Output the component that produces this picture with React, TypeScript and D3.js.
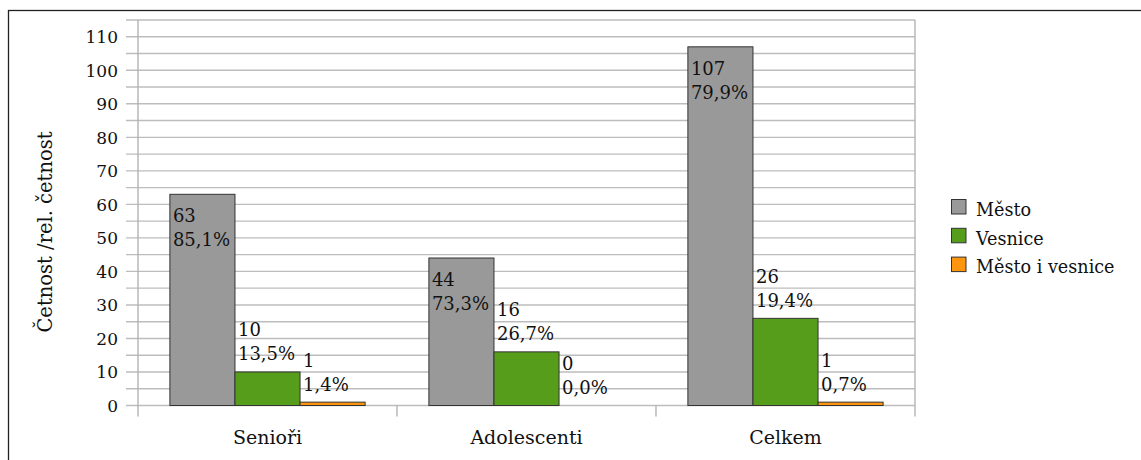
import React from "react";
import * as d3 from "d3";

const categories = ["Senioři", "Adolescenti", "Celkem"];
const seriesNames = ["Město", "Vesnice", "Město i vesnice"];
const seriesColors = ["#999999", "#579d1c", "#ff950e"];
const mestoCounts = [63, 44, 107];
const vesniceCounts = [10, 16, 26];
const obojiCounts = [1, 0, 1];
const mestoPct = [85.1, 73.3, 79.9];
const vesnicePct = [13.5, 26.7, 19.4];
const obojiPct = [1.4, 0.0, 0.7];
const yTicks = [0, 10, 20, 30, 40, 50, 60, 70, 80, 90, 100, 110];
const yTitle = "Četnost /rel. četnost";

const counts = [mestoCounts, vesniceCounts, obojiCounts];
const pcts = [mestoPct, vesnicePct, obojiPct];

const FONT = "'DejaVu Serif', serif";

export default function App() {
  const W = 1141;
  const H = 460;
  const left = 138;
  const right = 915;
  const top = 20;
  const bottom = 405.5;

  const x = d3.scaleBand<string>().domain(categories).range([left, right]).padding(0);
  const xs = d3
    .scaleBand<string>()
    .domain(seriesNames)
    .range([0, x.bandwidth()])
    .paddingInner(0)
    .paddingOuter(0.49);
  const y = d3.scaleLinear().domain([0, 115]).range([bottom, top]);
  const gridVals = d3.range(0, 116, 5);

  const fmt = (v: number) => v.toFixed(1).replace(".", ",") + "%";

  return (
    <svg
      width={W}
      height={H}
      style={{ position: "absolute", left: 0, top: 0, background: "#fff" }}
      fontFamily={FONT}
    >
      <rect x={8.5} y={10.5} width={1200} height={600} fill="#fff" stroke="#222" strokeWidth={1.3} />
      {gridVals.map((v) => (
        <line
          key={"g" + v}
          x1={left - 12}
          x2={right}
          y1={y(v)}
          y2={y(v)}
          stroke="#bdbdbd"
          strokeWidth={1.4}
        />
      ))}
      <line x1={left} x2={left} y1={top} y2={bottom + 11} stroke="#b3b3b3" strokeWidth={1.4} />
      <line x1={right} x2={right} y1={top} y2={bottom + 11} stroke="#b3b3b3" strokeWidth={1.4} />
      {categories.slice(1).map((c) => (
        <line
          key={"t" + c}
          x1={x(c)!}
          x2={x(c)!}
          y1={bottom}
          y2={bottom + 11}
          stroke="#b3b3b3"
          strokeWidth={1.4}
        />
      ))}
      {yTicks.map((v) => (
        <text key={"yl" + v} x={118} y={y(v) + 6.5} textAnchor="end" fontSize={17} fill="#111">
          {v}
        </text>
      ))}
      <text
        transform={`translate(52, ${232}) rotate(-90)`}
        textAnchor="middle"
        fontSize={19.5}
        fill="#111"
      >
        {yTitle}
      </text>
      {seriesNames.map((s, si) =>
        categories.map((c, ci) => {
          const v = counts[si][ci];
          const bx = x(c)! + xs(s)!;
          const by = y(v);
          const bh = bottom - by;
          return (
            <rect
              key={s + c}
              x={bx}
              y={by}
              width={xs.bandwidth()}
              height={bh}
              fill={seriesColors[si]}
              stroke="#333"
              strokeWidth={1}
            />
          );
        })
      )}
      {seriesNames.map((s, si) =>
        categories.map((c, ci) => {
          const v = counts[si][ci];
          const bx = x(c)! + xs(s)!;
          const by = y(v);
          const bh = bottom - by;
          const inside = bh > 100;
          const l1 = inside ? by + 27.7 : by - 35.5;
          const l2 = l1 + 24;
          return (
            <g key={"l" + s + c} fontSize={18} fill="#111">
              <text x={bx + 3} y={l1}>
                {v}
              </text>
              <text x={bx + 3} y={l2}>
                {fmt(pcts[si][ci])}
              </text>
            </g>
          );
        })
      )}
      {categories.map((c) => (
        <text
          key={"c" + c}
          x={x(c)! + x.bandwidth() / 2}
          y={444.3}
          textAnchor="middle"
          fontSize={19}
          fill="#111"
        >
          {c}
        </text>
      ))}
      {seriesNames.map((s, i) => (
        <g key={"lg" + s}>
          <rect
            x={951.5}
            y={199.5 + i * 28.8}
            width={14.5}
            height={14.5}
            fill={seriesColors[i]}
            stroke="#333"
            strokeWidth={1}
          />
          <text x={976} y={215.7 + i * 28.8} fontSize={17.6} fill="#111">
            {s}
          </text>
        </g>
      ))}
    </svg>
  );
}
